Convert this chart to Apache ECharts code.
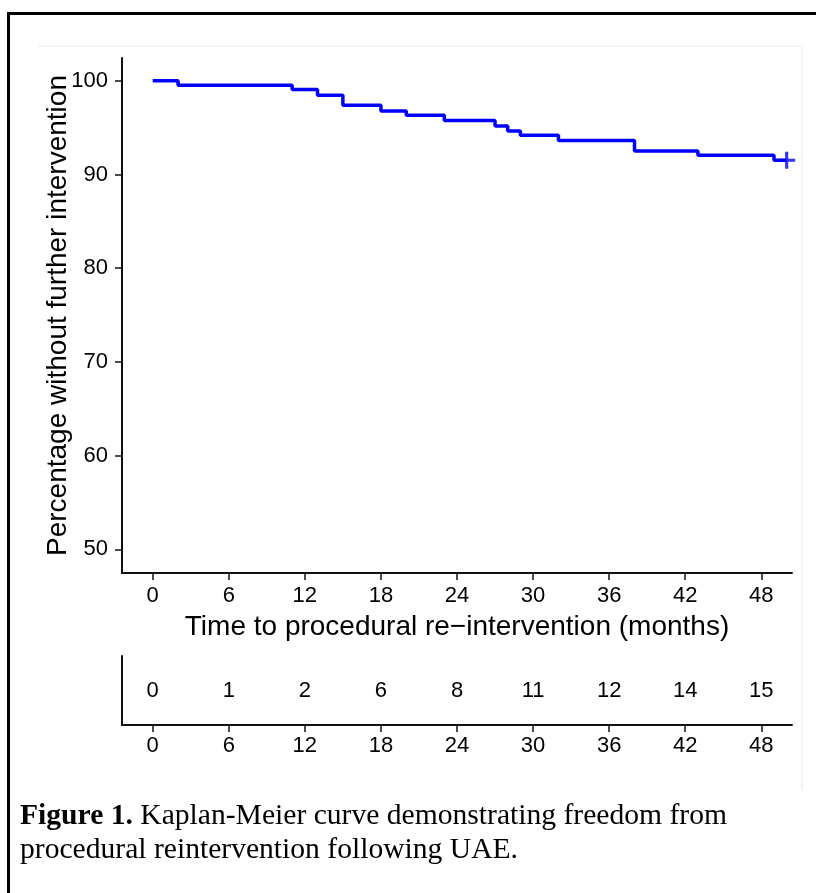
<!DOCTYPE html>
<html><head><meta charset="utf-8">
<script src="https://cdn.jsdelivr.net/npm/echarts@6/dist/echarts.min.js"></script>
<style>html,body{margin:0;padding:0;background:#fff}#c{width:816px;height:893px}</style>
</head><body><div id="c"></div>
<script>
// Kaplan-Meier step points (months, % free of re-intervention)
const times    = [0, 2, 11, 13, 15, 18, 20, 23, 27, 28, 29, 32, 38, 43, 49, 50];
const survival = [100, 99.52, 99.06, 98.45, 97.39, 96.78, 96.32, 95.75, 95.18, 94.64, 94.18, 93.62, 92.51, 92.05, 91.52, 91.52];
const censorTimes  = [50];
const censorValues = [91.52];
const xTicks = [0, 6, 12, 18, 24, 30, 36, 42, 48];
const yTicks = [50, 60, 70, 80, 90, 100];
const riskTimes  = [0, 6, 12, 18, 24, 30, 36, 42, 48];
const riskCounts = [0, 1, 2, 6, 8, 11, 12, 14, 15];
const xTitle = 'Time to procedural re\u2212intervention (months)';
const yTitle = 'Percentage without further intervention';
const caption1Bold = 'Figure 1.';
const caption1 = ' Kaplan-Meier curve demonstrating freedom from';
const caption2 = 'procedural reintervention following UAE.';

const SANS = '"Liberation Sans", Arial, Helvetica, sans-serif';
const SERIF = '"Liberation Serif", "Times New Roman", serif';
const axisCol = '#111';

const chart = echarts.init(document.getElementById('c'), null, {renderer: 'canvas'});

const xMin = -2.42, xMax = 50.42;

function xAxisCfg(gridIndex, name, margin) {
  return {
    type: 'value', gridIndex, min: xMin, max: xMax,
    name: name || '', nameLocation: 'middle', nameGap: 40, nameMoveOverlap: false,
    nameTextStyle: {fontFamily: SANS, fontSize: 28, color: '#000'},
    axisLine: {show: true, onZero: false, lineStyle: {color: axisCol, width: 2}},
    axisTick: {show: true, length: 7, customValues: xTicks, lineStyle: {color: axisCol, width: 1.5}},
    axisLabel: {show: true, customValues: xTicks, margin: margin, fontFamily: SANS, fontSize: 22, color: '#000'},
    splitLine: {show: false}
  };
}

const option = {
  animation: false,
  backgroundColor: '#fff',
  grid: [
    {left: 122, top: 58, width: 670, height: 515, containLabel: false},
    {left: 122, top: 656, width: 670, height: 69, containLabel: false}
  ],
  xAxis: [xAxisCfg(0, xTitle, 12), xAxisCfg(1, '', 10)],
  yAxis: [
    {
      type: 'value', gridIndex: 0, min: 47.47, max: 102.43,
      name: yTitle, nameLocation: 'middle', nameGap: 50, nameMoveOverlap: false,
      nameTextStyle: {fontFamily: SANS, fontSize: 28, color: '#000'},
      axisLine: {show: true, onZero: false, lineStyle: {color: axisCol, width: 2}},
      axisTick: {show: true, length: 7, customValues: yTicks, lineStyle: {color: axisCol, width: 1.5}},
      axisLabel: {show: true, customValues: yTicks, margin: 14, fontFamily: SANS, fontSize: 22, color: '#000'},
      splitLine: {show: false}
    },
    {
      type: 'value', gridIndex: 1, min: 0, max: 1,
      axisLine: {show: true, onZero: false, lineStyle: {color: axisCol, width: 2}},
      axisTick: {show: false}, axisLabel: {show: false}, splitLine: {show: false}
    }
  ],
  series: [
    {
      type: 'line', xAxisIndex: 0, yAxisIndex: 0, step: 'end',
      data: times.map((t, i) => [t, survival[i]]),
      symbol: 'none', lineStyle: {color: '#0000ff', width: 3.5}, z: 3
    },
    {
      type: 'scatter', xAxisIndex: 0, yAxisIndex: 0,
      data: censorTimes.map((t, i) => [t, censorValues[i]]),
      symbol: 'path://M-1.3,-7H1.3V-1.3H7V1.3H1.3V7H-1.3V1.3H-7V-1.3H-1.3Z',
      symbolSize: 17, itemStyle: {color: '#0000ff'}, z: 4
    },
    {
      type: 'scatter', xAxisIndex: 1, yAxisIndex: 1,
      data: riskTimes.map((t, i) => [t, 0.5, riskCounts[i]]),
      symbol: 'circle', symbolSize: 0.01, itemStyle: {color: '#fff'},
      label: {show: true, position: 'inside', formatter: p => String(p.value[2]),
              fontFamily: SANS, fontSize: 22, color: '#000', opacity: 1}
    }
  ],
  graphic: [
    {type: 'line', shape: {x1: 38, y1: 46, x2: 802, y2: 46}, style: {stroke: '#ececec', lineWidth: 1.2}, silent: true},
    {type: 'line', shape: {x1: 802, y1: 46, x2: 802, y2: 790}, style: {stroke: '#ececec', lineWidth: 1.2}, silent: true},
    {type: 'rect', shape: {x: 8.5, y: 13.5, width: 1000, height: 1000},
     style: {fill: 'none', stroke: '#000', lineWidth: 3}, silent: true},
    {type: 'text', left: 20, top: 801, silent: true,
     style: {text: '{b|' + caption1Bold + '}' + caption1, fontFamily: SERIF, fontSize: 29.6, fill: '#000',
             rich: {b: {fontFamily: SERIF, fontSize: 29.6, fontWeight: 'bold', fill: '#000'}}}},
    {type: 'text', left: 20, top: 835, silent: true,
     style: {text: caption2, fontFamily: SERIF, fontSize: 29.6, fill: '#000'}}
  ]
};
chart.setOption(option);
</script>
</body></html>
